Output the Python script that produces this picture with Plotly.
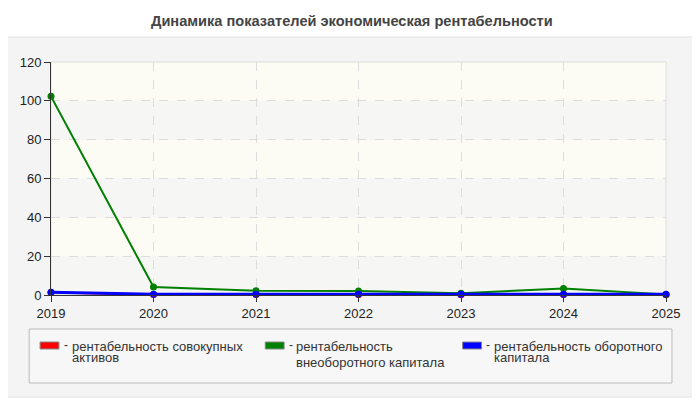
import plotly.graph_objects as go

years = [2019, 2020, 2021, 2022, 2023, 2024, 2025]
assets_roa = [1.3, 0.2, 0.2, 0.2, 0.1, 0.3, 0.1]
noncurrent_roa = [102.3, 4.1, 2.2, 2.0, 0.9, 3.4, 0.3]
current_roa = [1.4, 0.4, 0.4, 0.4, 0.4, 0.4, 0.4]

names = ['рентабельность совокупных активов',
         'рентабельность внеоборотного капитала',
         'рентабельность оборотного капитала']
legend_lines = [['рентабельность совокупных', 'активов'],
                ['рентабельность', 'внеоборотного капитала'],
                ['рентабельность оборотного', 'капитала']]
colors = ['#ff0000', '#008000', '#0000ff']
title = 'Динамика показателей экономическая рентабельности'

# page has an 8px body margin, so screen pixels are shifted by OFF
OFF = 8
# plot area in screen pixels
L, R, T, B = 46, 666, 62, 295


def px(x):
    return (x - L) / (R - L)


def py(y):
    return (B - y) / (B - T)


fig = go.Figure()
for vals, name, col, w in zip([assets_roa, noncurrent_roa, current_roa], names, colors, [2, 2, 3]):
    fig.add_trace(go.Scatter(
        x=years, y=vals, name=name, mode='lines+markers',
        line=dict(color=col, width=w),
        marker=dict(color=col, size=7),
        cliponaxis=False,
    ))

shapes = [
    # outer panel
    dict(type='rect', xref='paper', yref='paper', layer='below',
         x0=px(2), x1=px(697), y0=py(397), y1=py(37),
         fillcolor='#f4f4f4', line=dict(color='#e2e2e2', width=1)),
    # legend box
    dict(type='rect', xref='paper', yref='paper', layer='below',
         x0=px(24), x1=px(672), y0=py(383), y1=py(329),
         fillcolor='#f7f7f7', line=dict(color='#bbbbbb', width=1)),
]
# alternating background bands
for lo in range(0, 120, 20):
    shapes.append(dict(type='rect', xref='paper', yref='y', layer='below',
                       x0=0, x1=1, y0=lo, y1=lo + 20,
                       fillcolor='#f6f6f4' if (lo // 20) % 2 == 0 else '#fcfcf5',
                       line=dict(width=0)))
shapes.append(dict(type='rect', xref='paper', yref='paper', layer='below',
                   x0=0, x1=1, y0=0, y1=1, line=dict(color='#dddddd', width=1)))

annotations = [dict(text='<b>' + title + '</b>', xref='paper', yref='paper',
                    x=px(349), y=py(21), xanchor='center', yanchor='middle',
                    showarrow=False, font=dict(size=14.6, color='#444444'))]

swatch_x = [35, 262, 461]
text_x = [65, 291, 491]
second_y = [357, 362, 357]
for i in range(3):
    shapes.append(dict(type='rect', xref='paper', yref='paper',
                       x0=px(swatch_x[i]), x1=px(swatch_x[i] + 19),
                       y0=py(349), y1=py(342),
                       fillcolor=colors[i], line=dict(color='#888888', width=1)))
    annotations.append(dict(text='-', xref='paper', yref='paper',
                            x=px(swatch_x[i] + 22), y=py(345), xanchor='left', yanchor='middle',
                            showarrow=False, font=dict(size=12, color='#333333')))
    for ln, yy in zip(legend_lines[i], [346, second_y[i]]):
        annotations.append(dict(text=ln, xref='paper', yref='paper',
                                x=px(text_x[i]), y=py(yy), xanchor='left', yanchor='middle',
                                showarrow=False, font=dict(size=13, color='#333333')))

fig.update_layout(
    width=700, height=400,
    margin=dict(l=L - OFF, r=700 - (R - OFF), t=T - OFF, b=400 - (B - OFF)),
    paper_bgcolor='white',
    plot_bgcolor='rgba(0,0,0,0)',
    font=dict(family='Liberation Sans, Arial, sans-serif', size=13, color='#222222'),
    showlegend=False,
    shapes=shapes,
    annotations=annotations,
    xaxis=dict(range=[2019, 2025], tickvals=years, showgrid=True,
               gridcolor='#dddddd', griddash='dash', zeroline=False,
               showline=True, linecolor='#333333', linewidth=1,
               ticks='outside', ticklen=6, tickcolor='#333333'),
    yaxis=dict(range=[0, 120], dtick=20, showgrid=True,
               gridcolor='#dddddd', griddash='dash', zeroline=False,
               showline=True, linecolor='#333333', linewidth=1,
               ticks='outside', ticklen=6, tickcolor='#333333'),
)

fig.write_html('out.html')
